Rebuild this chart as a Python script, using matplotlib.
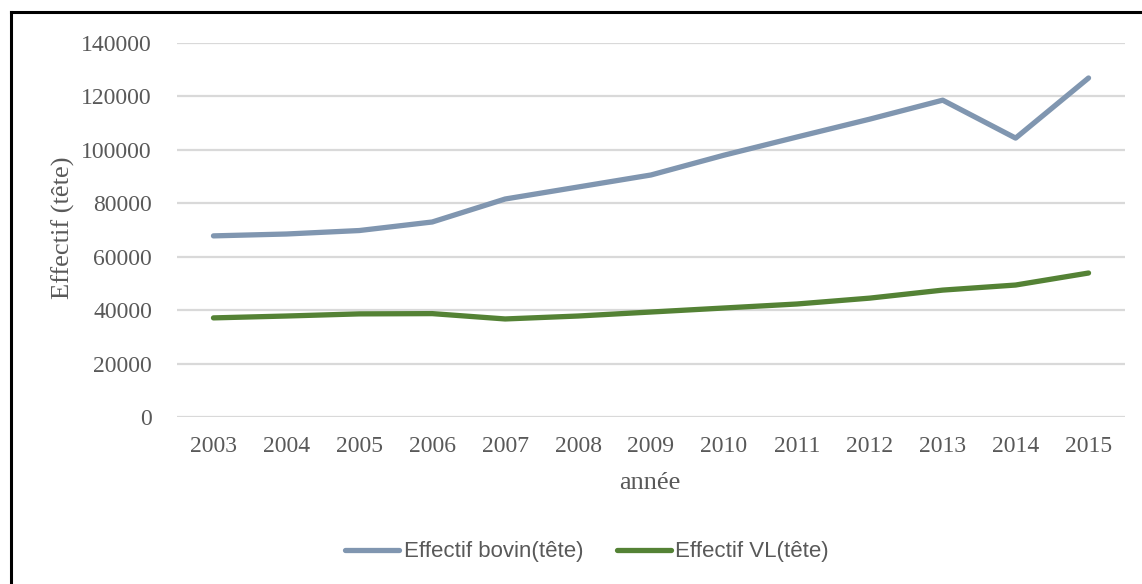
import matplotlib
matplotlib.use("Agg")
import matplotlib.pyplot as plt
from matplotlib.lines import Line2D

years = ["2003", "2004", "2005", "2006", "2007", "2008", "2009",
         "2010", "2011", "2012", "2013", "2014", "2015"]
bovin = [67800, 68500, 69800, 73000, 81600, 86100, 90600,
         98000, 104800, 111500, 118600, 104400, 126900]
vl = [37100, 37800, 38600, 38700, 36700, 37800, 39300,
      40800, 42300, 44500, 47500, 49400, 53900]
yticks = [0, 20000, 40000, 60000, 80000, 100000, 120000, 140000]

c_bovin = "#8096b0"
c_vl = "#548235"
txt = "#595959"
serif = ["Liberation Serif", "DejaVu Serif"]
sans = ["Liberation Sans", "DejaVu Sans"]

fig = plt.figure(figsize=(11.42, 5.84), dpi=100)
ax = fig.add_axes([177/1142, 1-417/584, (1125-177)/1142, (417-43)/584])

x = list(range(len(years)))
ax.plot(x, bovin, color=c_bovin, lw=3.8, solid_capstyle="round", solid_joinstyle="round",
        label="Effectif bovin(tête)", zorder=3)
ax.plot(x, vl, color=c_vl, lw=3.8, solid_capstyle="round", solid_joinstyle="round",
        label="Effectif VL(tête)", zorder=3)

ax.set_xlim(-0.5, len(years)-0.5)
ax.set_ylim(0, 140000)
ax.set_yticks(yticks)
ax.set_yticklabels([str(v) for v in yticks], fontfamily=serif, fontsize=17, color=txt)
ax.set_xticks(x)
ax.set_xticklabels(years, fontfamily=serif, fontsize=17, color=txt)
ax.tick_params(length=0)
ax.tick_params(axis="x", pad=14)
ax.tick_params(axis="y", pad=18)
ax.grid(axis="y", color="#d9d9d9", lw=1.6, zorder=0)
for s in ax.spines.values():
    s.set_visible(False)

fig.text(63/1142, 1-228/584, "Effectif (tête)", rotation=90, ha="center", va="center",
         fontfamily=serif, fontsize=19, color=txt)
fig.text(650/1142, 1-483/584, "année", ha="center", va="center",
         fontfamily=serif, fontsize=19, color=txt)

handles, labels = ax.get_legend_handles_labels()
leg = fig.legend(handles, labels, loc="center", bbox_to_anchor=(587/1142, 1-552/584),
                 ncol=2, frameon=False, prop={"family": sans, "size": 16},
                 handlelength=2.45, handletextpad=0.2, columnspacing=1.5, labelcolor=txt)

# outer frame (left and top border)
fig.add_artist(Line2D([11/1142, 11/1142], [0, 1-12/584], color="black", lw=2.2,
                      transform=fig.transFigure))
fig.add_artist(Line2D([11/1142, 1], [1-12/584, 1-12/584], color="black", lw=2.2,
                      transform=fig.transFigure))

fig.savefig("out.png", dpi=100, facecolor="white")
